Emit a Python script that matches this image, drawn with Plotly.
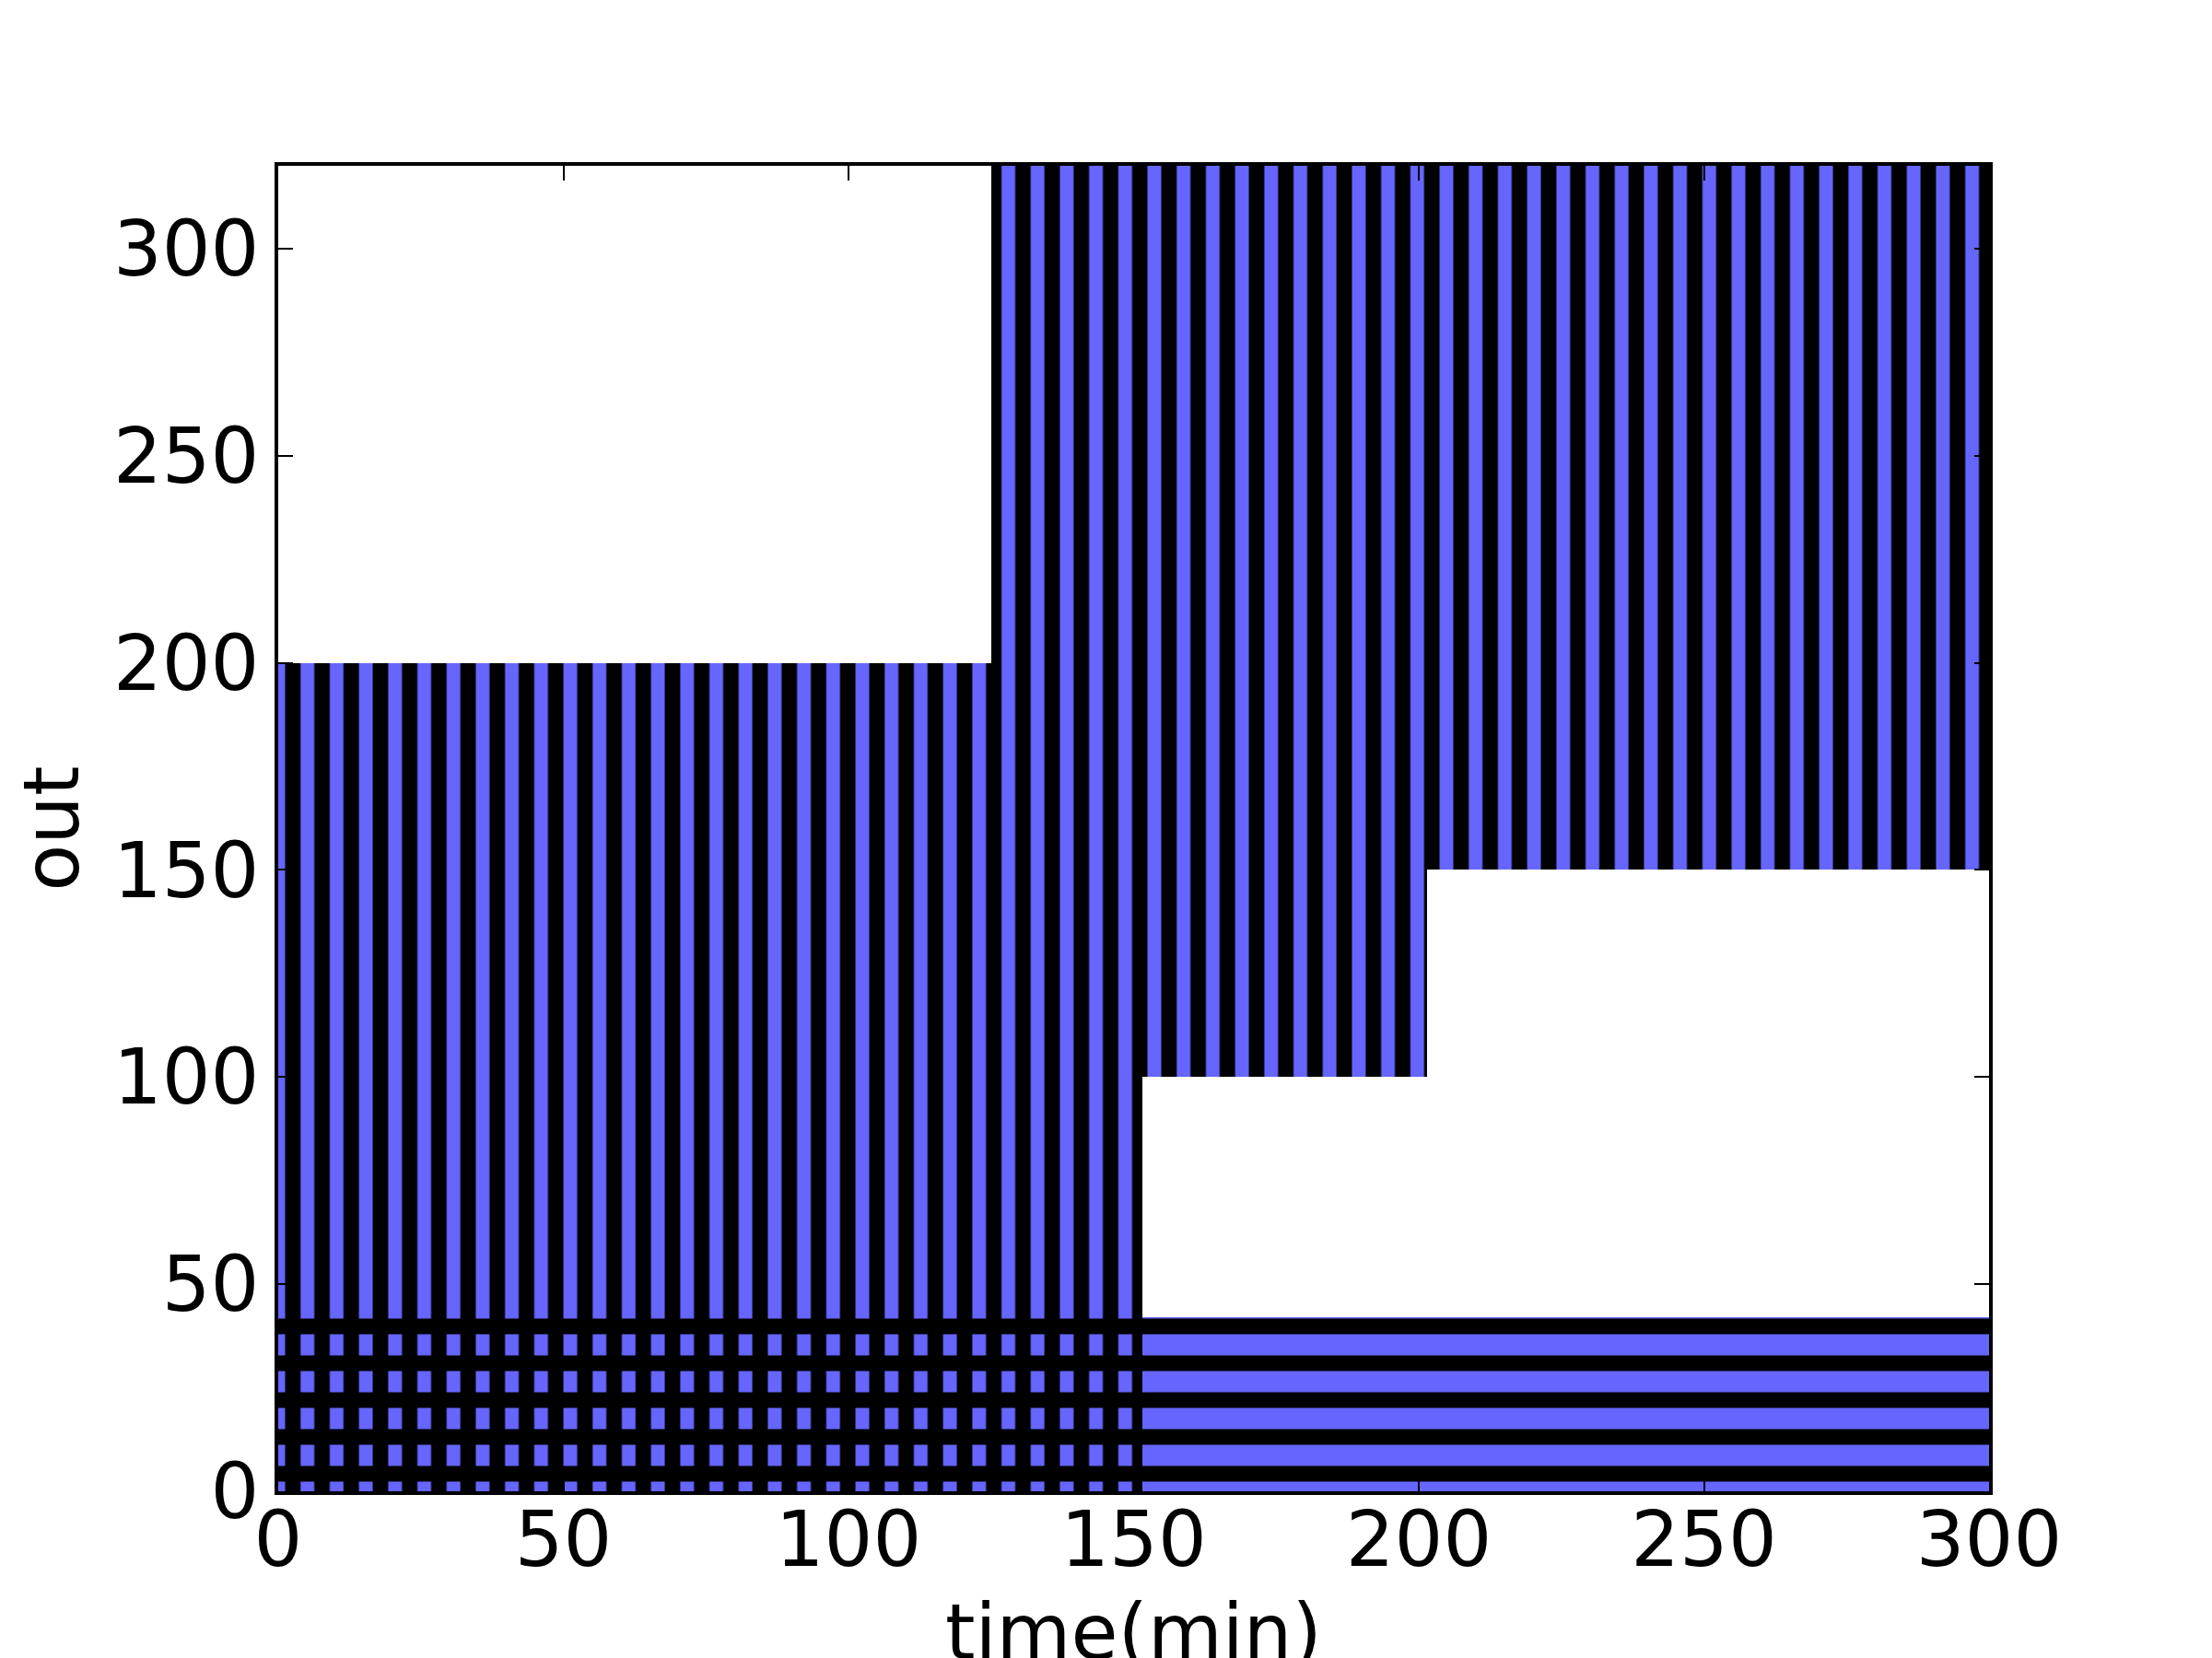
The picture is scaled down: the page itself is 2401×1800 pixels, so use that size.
import plotly.graph_objects as go

# hatched "out" blocks over time (vertical hatch)
seg_start = [0, 125, 151.5, 201.5]
seg_end = [125, 151.5, 201.5, 300]
out_low = [0, 0, 100, 150]
out_high = [200, 320, 320, 320]

# bottom band (horizontal hatch)
band_start = [0, 151.5]
band_end = [151.5, 300]
band_low = [0, 0]
band_high = [42, 42]

x_ticks = [0, 50, 100, 150, 200, 250, 300]
y_ticks = [0, 50, 100, 150, 200, 250, 300]

BLUE = "#6666ff"
FONT = dict(family="DejaVu Sans", size=83, color="black")

fig = go.Figure()

fig.add_trace(go.Bar(
    x=seg_start,
    y=[h - l for h, l in zip(out_high, out_low)],
    base=out_low,
    width=[e - s for s, e in zip(seg_start, seg_end)],
    offset=0,
    opacity=1,
    marker=dict(
        color=BLUE,
        line=dict(width=0),
        pattern=dict(shape="|", fgcolor="black", fgopacity=1, bgcolor=BLUE,
                     size=31.7, solidity=0.53),
    ),
    showlegend=False,
))

# band over the vertical hatch: transparent background so it reads as a cross hatch
band_bg = ["rgba(0,0,0,0)", BLUE]
for i in range(len(band_start)):
    fig.add_trace(go.Bar(
        x=[band_start[i]],
        y=[band_high[i] - band_low[i]],
        base=[band_low[i]],
        width=[band_end[i] - band_start[i]],
        offset=0,
        opacity=1,
        marker=dict(
            color=band_bg[i],
            line=dict(width=0),
            pattern=dict(shape="-", fgcolor="black", fgopacity=1, bgcolor=band_bg[i],
                         size=40, solidity=0.42),
        ),
        showlegend=False,
    ))

axis_common = dict(
    showgrid=False,
    zeroline=False,
    showline=True,
    linecolor="black",
    linewidth=4,
    mirror="ticks",
    ticks="inside",
    ticklen=16,
    tickwidth=2,
    tickcolor="black",
    tickfont=FONT,
    layer="above traces",
    automargin=False,
)

fig.update_layout(
    width=2401,
    height=1800,
    barmode="overlay",
    bargap=0,
    paper_bgcolor="white",
    plot_bgcolor="white",
    margin=dict(l=294, r=250, t=172, b=189),
    font=FONT,
    xaxis=dict(
        range=[0, 300],
        tickvals=x_ticks,
        ticklabelstandoff=-23,
        **axis_common,
    ),
    yaxis=dict(
        range=[0, 320],
        tickvals=y_ticks,
        title=dict(text="out", font=FONT, standoff=14),
        **axis_common,
    ),
)

# x label sits lower than plotly's margin-bound axis title allows
fig.add_annotation(
    text="time(min)",
    xref="paper", yref="paper",
    x=0.5, y=-0.0715,
    xanchor="center", yanchor="top",
    showarrow=False,
    font=FONT,
)

fig.write_html("out.html")
